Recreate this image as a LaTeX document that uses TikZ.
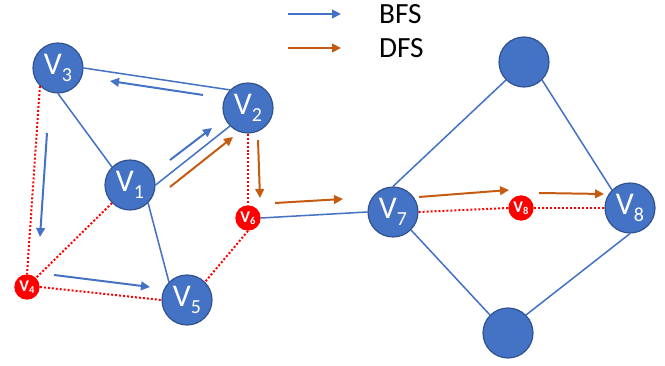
\documentclass[tikz,border=0pt]{standalone}
\usepackage{fontspec}
\setmainfont{Carlito}
\usepackage{tikz}
\usetikzlibrary{positioning}
\usetikzlibrary{arrows.meta}
\definecolor{nodeblue}{HTML}{4472C4}
\definecolor{nodeborder}{HTML}{2F528F}
\definecolor{dfsorange}{HTML}{C55A11}
\newcommand{\bigv}[1]{V\raisebox{-0.22em}{\fontsize{17}{17}\selectfont #1}}
\newcommand{\smallv}[1]{\textbf{V\raisebox{-0.15em}{\fontsize{9}{9}\selectfont #1}}}
\tikzset{main node/.style={circle,fill=nodeblue,draw=nodeborder,line width=1pt,minimum size=1.5cm,inner sep=0pt,text=white,font=\fontsize{27}{27}\selectfont},
red node/.style={circle,fill=red,minimum size=0.76cm,inner sep=0pt,text=white,font=\fontsize{14}{14}\selectfont},
edge line/.style={draw=nodeblue,line width=1.3pt},
red line/.style={draw=red,line width=1.7pt,dash pattern=on 1.7pt off 1.7pt},
bfs arrow/.style={->,draw=nodeblue,line width=1.7pt},
dfs arrow/.style={->,draw=dfsorange,line width=1.7pt},}

\begin{document}
\begin{tikzpicture}[>={Triangle[length=2.7mm,width=2.6mm]}, on grid, node distance=2cm]
	\useasboundingbox (0,0) rectangle (19.95,10.98);
	% left part
	\node[main node] (v3) at (1.74,8.94) {\bigv{3}};
	\node[main node] (v1) [below right = 3.51cm and 2.16cm of v3] {\bigv{1}};
	\node[main node] (v2) [above right = 2.31cm and 3.54cm of v1] {\bigv{2}};
	\node[main node] (v5) [below right = 3.45cm and 1.71cm of v1] {\bigv{5}};
	\node[red node] (v4) [above left = 0.39cm and 4.8cm of v5] {\smallv{4}};
	\node[red node] (v6) [below = 3.3cm of v2] {\smallv{6}};
	% right part
	\node[main node] (v7) [above right = 0.18cm and 4.35cm of v6] {\bigv{7}};
	\node[red node] (v8s) [above right = 0.12cm and 3.84cm of v7] {\smallv{8}};
	\node[main node] (v8) [right = 3.27cm of v8s] {\bigv{8}};
	\node[main node] (top) [above right = 4.5cm and 3.93cm of v7] {};
	\node[main node] (bot) [below right = 3.63cm and 3.45cm of v7] {};

	\path[edge line]
	(v3.east) edge (v2.north west)
	(v3.south) edge (v1.north west)
	(v1.east) edge (v2.south west)
	(v1.south east) edge (v5.north west)
	(v6.east) edge (v7.west)
	(v7.north) edge (top.south west)
	(top.south east) edge (v8.north west)
	(v7.south east) edge (bot.north west)
	(bot.north east) edge (v8.south);

	\path[red line]
	(v3.south west) edge (v4.north)
	(v1.south west) edge (v4.north east)
	(v4.east) edge (v5.west)
	(v2.south) edge (v6.north)
	(v6.south) edge (v5.north east)
	(v7.east) edge (v8s.west)
	(v8s.east) edge (v8.west);

	% BFS order
	\draw[bfs arrow] ([shift={(-1.35,0.39)}]v2.center) -- ([shift={(1.56,-0.39)}]v3.center);
	\draw[bfs arrow] ([shift={(1.2,0.75)}]v1.center) -- ([shift={(-1.08,-0.6)}]v2.center);
	\draw[bfs arrow] ([shift={(-0.33,-1.95)}]v3.center) -- ([shift={(0.39,1.5)}]v4.center);
	\draw[bfs arrow] ([shift={(0.81,0.36)}]v4.center) -- ([shift={(-1.11,0.39)}]v5.center);
	% DFS order
	\draw[dfs arrow] ([shift={(1.2,-0.06)}]v1.center) -- ([shift={(-0.45,-0.87)}]v2.center);
	\draw[dfs arrow] ([shift={(0.3,-0.96)}]v2.center) -- ([shift={(0.36,0.6)}]v6.center);
	\draw[dfs arrow] ([shift={(0.81,0.45)}]v6.center) -- ([shift={(-1.5,0.39)}]v7.center);
	\draw[dfs arrow] ([shift={(0.78,0.45)}]v7.center) -- ([shift={(-0.36,0.54)}]v8s.center);
	\draw[dfs arrow] ([shift={(0.54,0.45)}]v8s.center) -- ([shift={(-0.78,0.42)}]v8.center);

	% legend
	\coordinate (bfs a) at (8.64,10.56);
	\coordinate (bfs b) at (10.23,10.56);
	\coordinate (dfs a) at (8.64,9.54);
	\coordinate (dfs b) at (10.23,9.54);
	\draw[bfs arrow] (bfs a) -- (bfs b);
	\draw[dfs arrow] (dfs a) -- (dfs b);
	\node[anchor=west,font=\fontsize{25}{25}\selectfont] (bfs text) at (11.25,10.56) {BFS};
	\node[anchor=west,font=\fontsize{25}{25}\selectfont] (dfs text) at (11.25,9.54) {DFS};
\end{tikzpicture}
\end{document}
